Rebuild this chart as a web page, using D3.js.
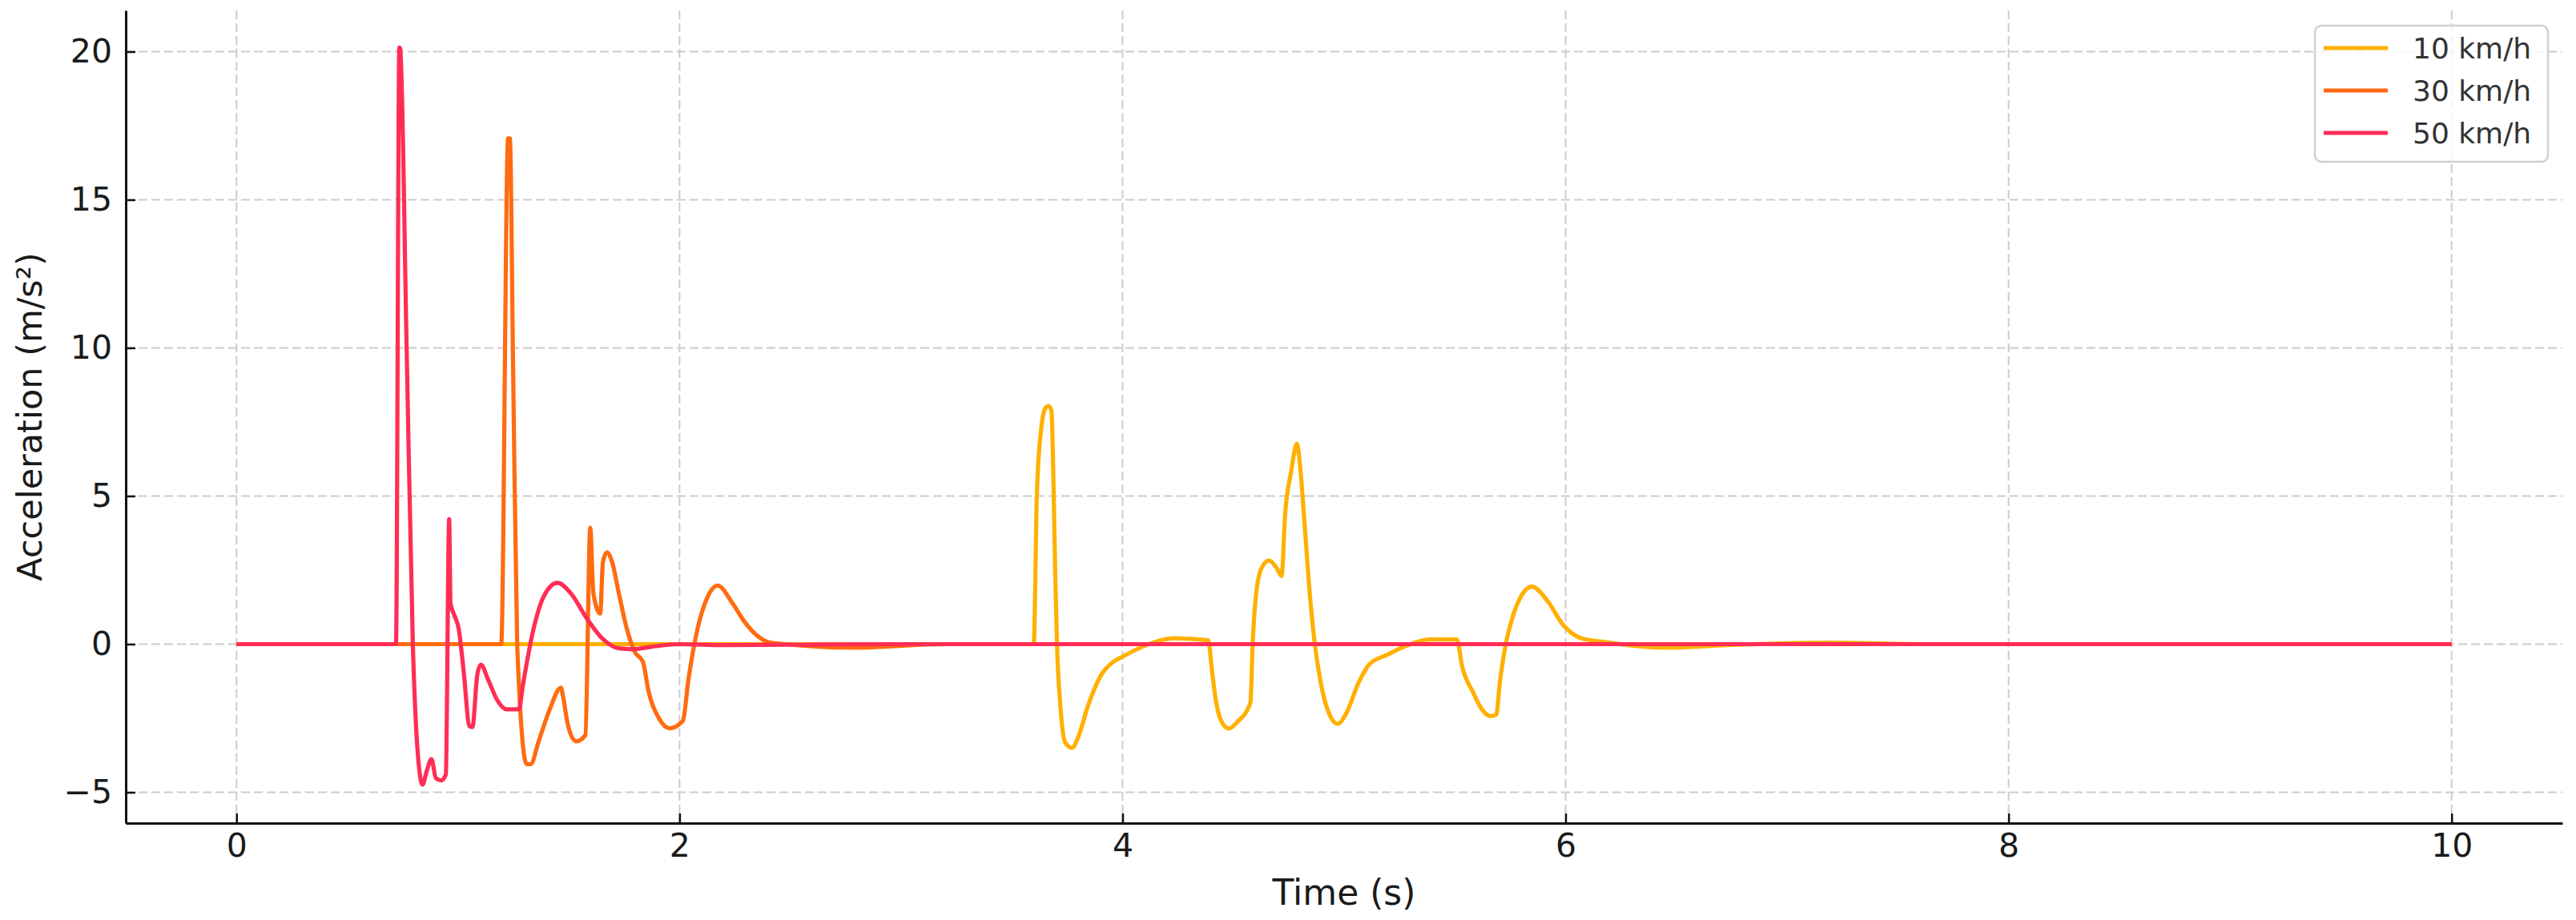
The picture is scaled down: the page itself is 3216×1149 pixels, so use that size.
<!DOCTYPE html>
<html>
<head>
<meta charset="utf-8">
<script src="https://cdn.jsdelivr.net/npm/d3@7"></script>
<style>
  html, body { margin: 0; padding: 0; background: #fff; }
  svg { display: block; }
  text { font-family: "DejaVu Sans", sans-serif; }
</style>
</head>
<body>
<svg id="chart" width="3216" height="1149"></svg>
<script>
// ---- Data ----
const seriesNames = ["10 km/h", "30 km/h", "50 km/h"];
const seriesColors = ["#FFB000", "#FF6B10", "#FF2D55"];

const t10 = [0, 3.599, 3.613, 3.631, 3.652, 3.666, 3.679, 3.688, 3.696, 3.704, 3.72, 3.741, 3.772, 3.804, 3.845, 3.901, 3.956, 3.998, 4.108, 4.23, 4.387, 4.403, 4.419, 4.443, 4.48, 4.516, 4.577, 4.588, 4.605, 4.629, 4.661, 4.694, 4.718, 4.734, 4.761, 4.787, 4.799, 4.823, 4.847, 4.868, 4.895, 4.928, 4.971, 5.008, 5.065, 5.113, 5.194, 5.307, 5.388, 5.509, 5.533, 5.582, 5.622, 5.662, 5.687, 5.703, 5.730, 5.759, 5.8, 5.848, 5.92, 5.99, 6.067, 6.177, 6.454, 6.731, 7.192, 7.65, 10];
const a10 = [0, 0, 4.99, 7.15, 7.97, 8.04, 7.88, 5.53, 2.37, 0, -2.15, -3.32, -3.5, -3.05, -2.06, -1.07, -0.61, -0.43, -0.03, 0.2, 0.13, -0.84, -1.79, -2.55, -2.85, -2.64, -1.98, 0.11, 1.83, 2.59, 2.82, 2.59, 2.3, 4.39, 5.82, 6.77, 6.2, 3.92, 1.54, 0, -1.31, -2.26, -2.69, -2.36, -1.31, -0.69, -0.36, 0.02, 0.16, 0.16, -0.75, -1.62, -2.2, -2.43, -2.38, -1.31, 0, 0.87, 1.63, 1.94, 1.44, 0.64, 0.21, 0.07, -0.12, -0.03, 0.05, 0, 0];

const t30 = [0, 1.195, 1.226, 1.234, 1.249, 1.267, 1.310, 1.328, 1.364, 1.412, 1.465, 1.473, 1.497, 1.533, 1.575, 1.597, 1.611, 1.642, 1.654, 1.672, 1.696, 1.726, 1.762, 1.798, 1.835, 1.859, 1.907, 1.955, 2.015, 2.040, 2.076, 2.124, 2.172, 2.24, 2.295, 2.35, 2.405, 2.48, 2.79, 3.2, 10];
const a30 = [0, 0, 17.07, 17.07, 9.14, 0, -4.05, -4.05, -3.28, -2.24, -1.47, -1.72, -2.76, -3.28, -3.07, 3.93, 1.72, 1.03, 2.76, 3.1, 2.76, 1.72, 0.52, -0.26, -0.6, -1.55, -2.5, -2.84, -2.59, -1.2, 0.34, 1.55, 1.98, 1.37, 0.74, 0.29, 0.06, 0, -0.12, 0, 0];

const t50 = [0, 0.72, 0.735, 0.739, 0.768, 0.796, 0.816, 0.840, 0.858, 0.880, 0.900, 0.924, 0.945, 0.960, 0.966, 0.985, 1.003, 1.027, 1.051, 1.065, 1.087, 1.103, 1.136, 1.178, 1.220, 1.275, 1.293, 1.341, 1.389, 1.449, 1.509, 1.582, 1.654, 1.726, 1.787, 1.871, 2.0, 2.2, 2.5, 3.0, 10];
const a50 = [0, 0, 20.14, 20.1, 10, 0, -3.45, -4.74, -4.3, -3.88, -4.52, -4.6, -4.4, 4.22, 1.38, 0.95, 0.52, -1.03, -2.76, -2.8, -1.03, -0.69, -1.2, -1.9, -2.2, -2.2, -1.38, 0.52, 1.64, 2.07, 1.72, 0.86, 0.17, -0.14, -0.17, -0.09, 0, -0.03, -0.02, 0, 0];

const xTicks = [0, 2, 4, 6, 8, 10];
const yTicks = [-5, 0, 5, 10, 15, 20];
const xLabel = "Time (s)";
const yLabel = "Acceleration (m/s²)";

// ---- Layout ----
const svg = d3.select("#chart");
const L = 157, R = 3199, T = 13, B = 1028;

const x = d3.scaleLinear().domain([-0.5, 10.5]).range([L, R]);
const y = d3.scaleLinear().domain([-6.04, 21.39]).range([B, T]);

// grid
const grid = svg.append("g");
grid.selectAll("line.v").data(xTicks).join("line")
  .attr("x1", d => x(d)).attr("x2", d => x(d))
  .attr("y1", T).attr("y2", B)
  .attr("stroke", "#cccccc").attr("stroke-width", 2)
  .attr("stroke-dasharray", "11,5");
grid.selectAll("line.h").data(yTicks).join("line")
  .attr("y1", d => y(d)).attr("y2", d => y(d))
  .attr("x1", L).attr("x2", R)
  .attr("stroke", "#cccccc").attr("stroke-width", 2)
  .attr("stroke-dasharray", "11,5");

// lines
const series = [
  { name: seriesNames[0], color: seriesColors[0], t: t10, a: a10 },
  { name: seriesNames[1], color: seriesColors[1], t: t30, a: a30 },
  { name: seriesNames[2], color: seriesColors[2], t: t50, a: a50 }
];
const line = d3.line()
  .x(d => x(d[0])).y(d => y(d[1]))
  .curve(d3.curveMonotoneX);

svg.append("g").selectAll("path").data(series).join("path")
  .attr("d", s => line(s.t.map((tt, i) => [tt, s.a[i]])))
  .attr("fill", "none")
  .attr("stroke", s => s.color)
  .attr("stroke-width", 5.2)
  .attr("stroke-linejoin", "round")
  .attr("stroke-linecap", "butt");

// axes
const fmt = d => (d < 0 ? "\u2212" + Math.abs(d) : String(d));
const xAxis = d3.axisBottom(x).tickValues(xTicks).tickFormat(fmt)
  .tickSizeInner(-12).tickSizeOuter(0).tickPadding(13);
const yAxis = d3.axisLeft(y).tickValues(yTicks).tickFormat(fmt)
  .tickSizeInner(-12).tickSizeOuter(0).tickPadding(17);

const gx = svg.append("g").attr("transform", `translate(0,${B})`).call(xAxis);
const gy = svg.append("g").attr("transform", `translate(${L},0)`).call(yAxis);
[gx, gy].forEach(g => {
  g.select(".domain").attr("stroke", "#111").attr("stroke-width", 3);
  g.selectAll(".tick line").attr("stroke", "#111").attr("stroke-width", 2.5);
  g.selectAll(".tick text").attr("fill", "#1a1a1a")
    .style("font-family", "'DejaVu Sans', sans-serif").style("font-size", "41px");
});

// axis labels
svg.append("text")
  .attr("x", (L + R) / 2).attr("y", 1130)
  .attr("text-anchor", "middle")
  .attr("fill", "#1a1a1a")
  .style("font-size", "44px")
  .text(xLabel);
svg.append("text")
  .attr("transform", `translate(52,${(T + B) / 2}) rotate(-90)`)
  .attr("text-anchor", "middle")
  .attr("fill", "#1a1a1a")
  .style("font-size", "43px")
  .text(yLabel);

// legend
const lg = svg.append("g");
lg.append("rect")
  .attr("x", 2890).attr("y", 32).attr("width", 291).attr("height", 170)
  .attr("rx", 8).attr("ry", 8)
  .attr("fill", "#fff").attr("fill-opacity", 0.8)
  .attr("stroke", "#d0d0d0").attr("stroke-width", 2.5);
const rowY = [60, 113, 166];
const items = lg.selectAll("g.item").data(series).join("g")
  .attr("transform", (d, i) => `translate(0,${rowY[i]})`);
items.append("line")
  .attr("x1", 2901).attr("x2", 2981).attr("y1", 0).attr("y2", 0)
  .attr("stroke", d => d.color).attr("stroke-width", 5.2);
items.append("text")
  .attr("x", 3012).attr("y", 0).attr("dy", "0.36em")
  .attr("fill", "#333")
  .style("font-size", "36px")
  .text(d => d.name);
</script>
</body>
</html>
